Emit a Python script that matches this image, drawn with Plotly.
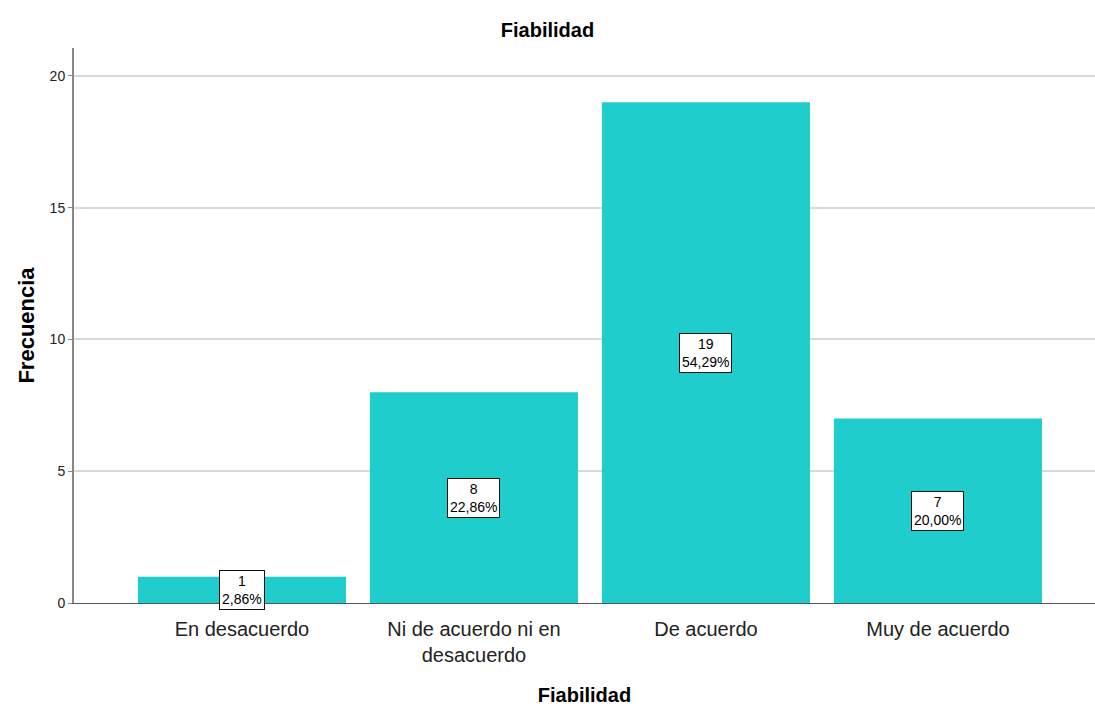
import plotly.graph_objects as go

categories = ["En desacuerdo", "Ni de acuerdo ni en<br>desacuerdo", "De acuerdo", "Muy de acuerdo"]
frecuencia = [1, 8, 19, 7]
porcentaje = ["2,86%", "22,86%", "54,29%", "20,00%"]
y_ticks = [0, 5, 10, 15, 20]

x_pos = list(range(len(categories)))

fig = go.Figure()
fig.add_trace(go.Bar(
    x=x_pos,
    y=frecuencia,
    width=0.897,
    marker=dict(color="#1FCDCD", line=dict(width=0)),
    hoverinfo="skip",
))

for xi, f, p in zip(x_pos, frecuencia, porcentaje):
    fig.add_annotation(
        x=xi, y=f / 2, xref="x", yref="y",
        text=f"{f}<br>{p}",
        showarrow=False,
        font=dict(family="Arial, Liberation Sans", size=14, color="#000"),
        bgcolor="white", bordercolor="#111", borderwidth=1, borderpad=2,
        align="center",
    )

fig.update_layout(
    width=1095, height=706,
    margin=dict(l=74, r=0, t=48, b=103),
    plot_bgcolor="white", paper_bgcolor="white",
    showlegend=False,
    title=dict(text="<b>Fiabilidad</b>", x=0.5, xanchor="center", y=0.957, yanchor="middle",
               font=dict(family="Arial, Liberation Sans", size=20, color="#000")),
    font=dict(family="Arial, Liberation Sans", color="#000"),
)

fig.update_xaxes(
    range=[-0.724, 3.677],
    automargin=False,
    tickmode="array", tickvals=x_pos, ticktext=categories,
    tickfont=dict(size=20, color="#222"),
    ticklabelstandoff=8,
    showgrid=False, zeroline=False,
    showline=True, linecolor="#555", linewidth=1,
    ticks="",
    title=dict(text="<b>Fiabilidad</b>", font=dict(size=20, color="#000"), standoff=34),
)
fig.update_yaxes(
    range=[0, 21.06],
    automargin=False,
    tickmode="array", tickvals=y_ticks,
    tickfont=dict(size=14, color="#222"),
    showgrid=True, gridcolor="#d9d9d9", gridwidth=2,
    zeroline=False,
    showline=True, linecolor="#888", linewidth=2,
    ticks="outside", ticklen=4, tickcolor="#888",
    title=dict(text="<b>Frecuencia</b>", font=dict(size=22, color="#000"), standoff=9),
)

fig.write_html("out.html")
